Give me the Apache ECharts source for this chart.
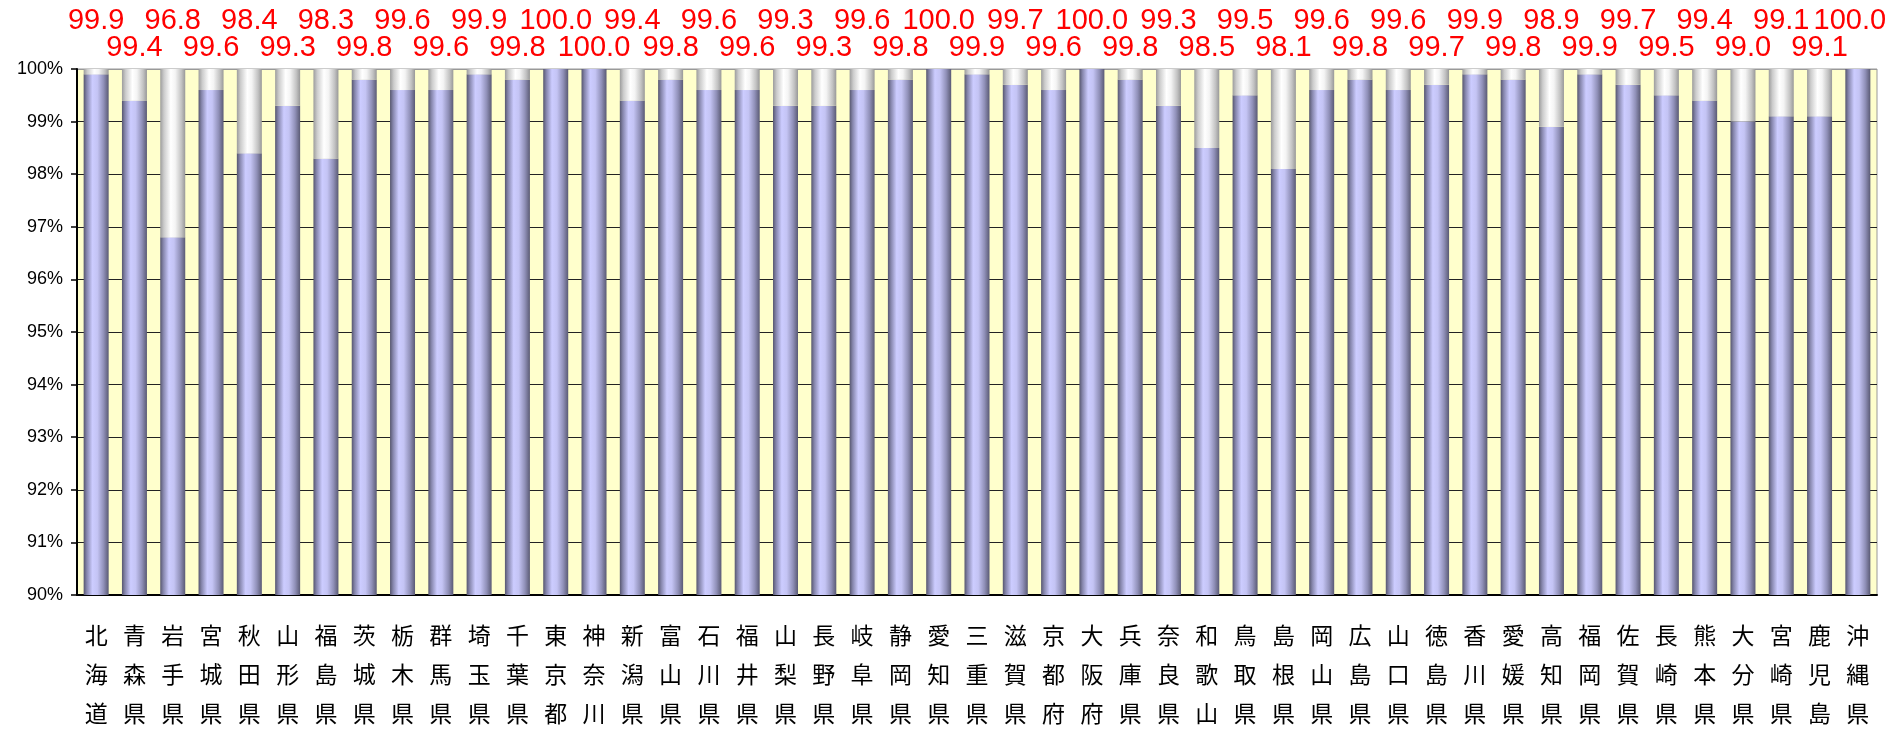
<!DOCTYPE html>
<html><head><meta charset="utf-8">
<script src="https://cdn.jsdelivr.net/npm/echarts@6/dist/echarts.min.js"></script>
<style>html,body{margin:0;padding:0;background:#fff}#c{width:1886px;height:734px}</style>
</head><body><div id="c"></div>
<script>
const categories = ['北海道','青森県','岩手県','宮城県','秋田県','山形県','福島県','茨城県','栃木県','群馬県','埼玉県','千葉県','東京都','神奈川','新潟県','富山県','石川県','福井県','山梨県','長野県','岐阜県','静岡県','愛知県','三重県','滋賀県','京都府','大阪府','兵庫県','奈良県','和歌山','鳥取県','島根県','岡山県','広島県','山口県','徳島県','香川県','愛媛県','高知県','福岡県','佐賀県','長崎県','熊本県','大分県','宮崎県','鹿児島','沖縄県'];
const values = [99.9,99.4,96.8,99.6,98.4,99.3,98.3,99.8,99.6,99.6,99.9,99.8,100.0,100.0,99.4,99.8,99.6,99.6,99.3,99.3,99.6,99.8,100.0,99.9,99.7,99.6,100.0,99.8,99.3,98.5,99.5,98.1,99.6,99.8,99.6,99.7,99.9,99.8,98.9,99.9,99.7,99.5,99.4,99.0,99.1,99.1,100.0];
const yTicks = ['90%','91%','92%','93%','94%','95%','96%','97%','98%','99%','100%'];

const remain = values.map(v => +(100 - v).toFixed(1));
const blueGrad = new echarts.graphic.LinearGradient(0,0,1,0,[
  {offset:0,color:'#56566e'},{offset:0.12,color:'#8585ab'},{offset:0.35,color:'#ccccff'},
  {offset:0.55,color:'#c4c4f4'},{offset:0.8,color:'#9090b8'},{offset:1,color:'#5a5a74'}]);
const whiteGrad = new echarts.graphic.LinearGradient(0,0,1,0,[
  {offset:0,color:'#9c9c9c'},{offset:0.15,color:'#cccccc'},{offset:0.42,color:'#ffffff'},
  {offset:0.6,color:'#f4f4f4'},{offset:0.85,color:'#c2c2c2'},{offset:1,color:'#989898'}]);

const chart = echarts.init(document.getElementById('c'));
chart.setOption({
  animation:false,
  grid:{left:77,right:9,top:69,bottom:139,show:true,backgroundColor:'#ffffcc',borderColor:'#999',borderWidth:1},
  xAxis:{type:'category',data:categories,
    axisLine:{lineStyle:{color:'#000',width:2}},axisTick:{show:false},
    axisLabel:{interval:0,margin:21,fontSize:23,lineHeight:39,color:'#000',
      fontFamily:'"Noto Sans CJK JP",sans-serif',formatter:s=>s.split('').join('\n')}},
  yAxis:{type:'value',min:90,max:100,interval:1,
    axisLine:{show:true,lineStyle:{color:'#000',width:2}},
    axisTick:{show:true,length:6,lineStyle:{color:'#000',width:1.5}},
    axisLabel:{margin:14,fontSize:18,color:'#000',fontFamily:'"Liberation Sans",Arial,sans-serif',
      formatter:v=>yTicks[Math.round(v-90)]},
    splitLine:{show:true,lineStyle:{color:['#222','#222','#222','#222','#222','#222','#222','#222','#222','#222','#999'],width:1}}},
  series:[
    {type:'bar',stack:'a',data:values,barWidth:25,itemStyle:{color:blueGrad}},
    {type:'bar',stack:'a',barWidth:25,itemStyle:{color:whiteGrad},
      data:remain.map((r,i)=>({value:r,label:{offset:[i===values.length-1?-8:0, i%2===0?-27:0]}})),
      label:{show:true,position:'top',distance:6,color:'#ff0000',fontSize:29,lineHeight:30,
        fontFamily:'"Liberation Sans",Arial,sans-serif',
        formatter:p=>values[p.dataIndex].toFixed(1)}}
  ]
});
</script></body></html>
